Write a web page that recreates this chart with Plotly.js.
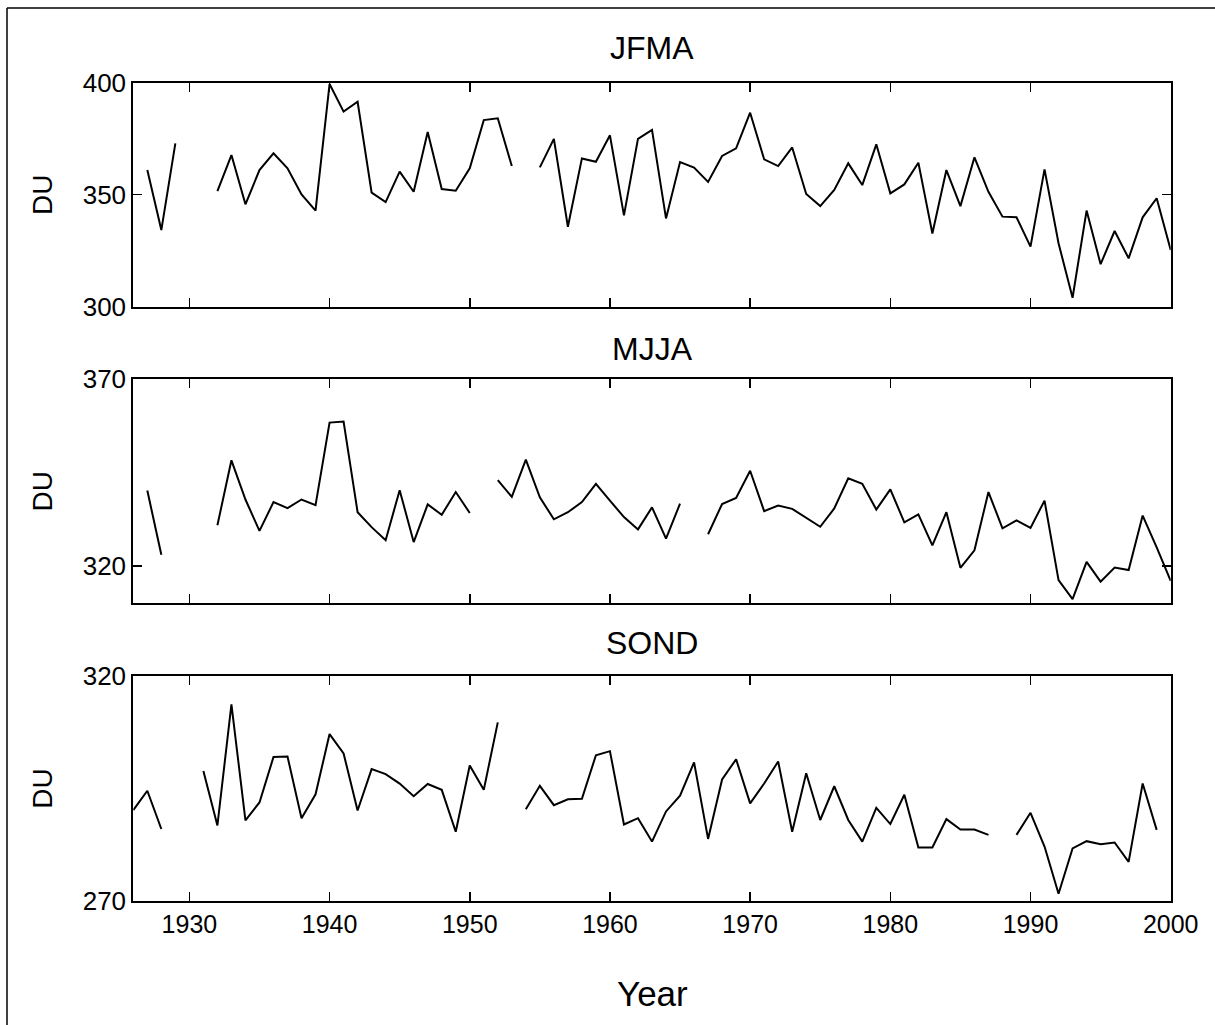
<!DOCTYPE html>
<html>
<head>
<meta charset="utf-8">
<script src="https://cdn.plot.ly/plotly-3.0.1.min.js"></script>
<style>html,body{margin:0;padding:0;background:#fff;}#chart{width:1215px;height:1025px;}</style>
</head>
<body>
<div id="chart"></div>
<script>
// Years 1926..2000
var years = [];
for (var y = 1926; y <= 2000; y++) years.push(y);

// JFMA (DU), 1926..2000, null = missing
var jfma = [null,361.0,334.2,372.9,null,null,351.6,367.7,345.7,361.0,368.5,361.8,350.1,342.9,399.4,387.1,391.5,350.9,346.7,360.3,351.3,378.0,352.5,351.8,361.8,383.3,384.1,362.8,null,362.2,374.9,335.7,366.2,364.7,376.5,340.8,374.9,378.9,339.4,364.6,362.1,355.7,367.3,370.7,386.6,365.8,362.8,371.1,350.3,344.9,352.1,364.0,354.3,372.5,350.6,354.6,364.3,332.7,361.0,344.9,366.7,351.3,340.2,339.9,326.8,361.3,328.3,304.0,342.9,319.0,333.8,321.6,339.9,348.4,325.3];

// MJJA (DU)
var mjja = [null,340.2,323.0,null,null,null,330.9,348.3,337.8,329.4,337.1,335.5,337.8,336.3,358.4,358.7,334.4,330.4,326.9,340.3,326.4,336.5,333.7,339.8,334.2,null,343.0,338.5,348.5,338.4,332.5,334.4,337.1,342.0,337.5,333.1,329.8,335.7,327.3,336.7,null,328.5,336.6,338.2,345.5,334.7,336.2,335.3,332.9,330.5,335.4,343.5,342.0,335.1,340.5,331.7,333.8,325.5,334.4,319.5,324.2,339.8,330.1,332.2,330.2,337.5,316.2,311.1,321.1,315.8,319.6,318.9,333.5,325.0,316.0];

// SOND (DU)
var sond = [290.2,294.5,286.0,null,null,298.9,286.8,313.7,287.9,291.9,302.0,302.1,288.4,293.7,307.1,302.8,290.1,299.3,298.2,296.1,293.3,296.0,294.7,285.4,300.1,294.7,309.7,null,290.4,295.6,291.3,292.6,292.7,302.4,303.3,287.0,288.4,283.2,289.9,293.4,300.8,283.8,297.0,301.5,291.7,296.1,301.0,285.4,298.4,288.0,295.5,288.0,283.2,290.7,287.1,293.6,281.9,281.9,288.2,285.9,285.9,284.7,null,284.7,289.6,282.1,271.6,281.7,283.3,282.6,283.0,278.7,296.1,285.8,null];

var panelTitles = ["JFMA", "MJJA", "SOND"];
var xTicks = [1930, 1940, 1950, 1960, 1970, 1980, 1990, 2000];

var FONT = "Liberation Sans, Arial, sans-serif";
var lineStyle = {color: "#000", width: 2};

var traces = [
  {x: years, y: jfma, xaxis: "x", yaxis: "y", mode: "lines", line: lineStyle, connectgaps: false},
  {x: years, y: mjja, xaxis: "x2", yaxis: "y2", mode: "lines", line: lineStyle, connectgaps: false},
  {x: years, y: sond, xaxis: "x3", yaxis: "y3", mode: "lines", line: lineStyle, connectgaps: false}
];

var xdom = [133.3/1215, 1170.7/1215];
function ydom(top, bot) { return [1 - bot/1025, 1 - top/1025]; }

function xaxis(anchor, showLabels) {
  return {
    domain: xdom, anchor: anchor, range: [1926, 2000],
    tickvals: xTicks, ticktext: xTicks.map(String),
    ticks: "inside", ticklen: 9, tickwidth: 1.5, tickcolor: "#000",
    showticklabels: showLabels, showgrid: false, zeroline: false,
    showline: true, linecolor: "#000", linewidth: 2, mirror: "ticks",
    tickfont: {family: FONT, size: 25, color: "#000"}
  };
}
function yaxis(anchor, dom, range, tv) {
  return {
    domain: dom, anchor: anchor, range: range,
    tickvals: tv, ticktext: tv.map(String),
    ticks: "inside", ticklen: 9, tickwidth: 1.5, tickcolor: "#000",
    showgrid: false, zeroline: false,
    showline: true, linecolor: "#000", linewidth: 2, mirror: "ticks",
    tickfont: {family: FONT, size: 26, color: "#000"},
    title: {text: "DU", font: {family: FONT, size: 28, color: "#000"}, standoff: 22}
  };
}

function ann(text, ypx, size) {
  return {text: text, xref: "paper", yref: "paper", x: 652/1215, y: 1 - ypx/1025,
          xanchor: "center", yanchor: "middle", showarrow: false,
          font: {family: FONT, size: size, color: "#000"}};
}

var layout = {
  width: 1215, height: 1025,
  margin: {l: 0, r: 0, t: 0, b: 0},
  paper_bgcolor: "#fff", plot_bgcolor: "#fff",
  showlegend: false,
  xaxis: xaxis("y", false),
  xaxis2: xaxis("y2", false),
  xaxis3: xaxis("y3", true),
  yaxis: yaxis("x", ydom(82.7, 306.7), [300, 400], [300, 350, 400]),
  yaxis2: yaxis("x2", ydom(379.3, 603.3), [310, 370], [320, 370]),
  yaxis3: yaxis("x3", ydom(676, 901), [270, 320], [270, 320]),
  annotations: [
    ann(panelTitles[0], 48, 32),
    ann(panelTitles[1], 349, 32),
    ann(panelTitles[2], 643, 32),
    ann("Year", 993, 35)
  ],
  shapes: [
    {type: "line", xref: "paper", yref: "paper", x0: 7/1215, x1: 1, y0: 1 - 8/1025, y1: 1 - 8/1025, line: {color: "#000", width: 1.5}},
    {type: "line", xref: "paper", yref: "paper", x0: 7/1215, x1: 7/1215, y0: 0, y1: 1 - 8/1025, line: {color: "#000", width: 1.5}}
  ]
};

Plotly.newPlot("chart", traces, layout, {staticPlot: true, displayModeBar: false});
</script>
</body>
</html>
